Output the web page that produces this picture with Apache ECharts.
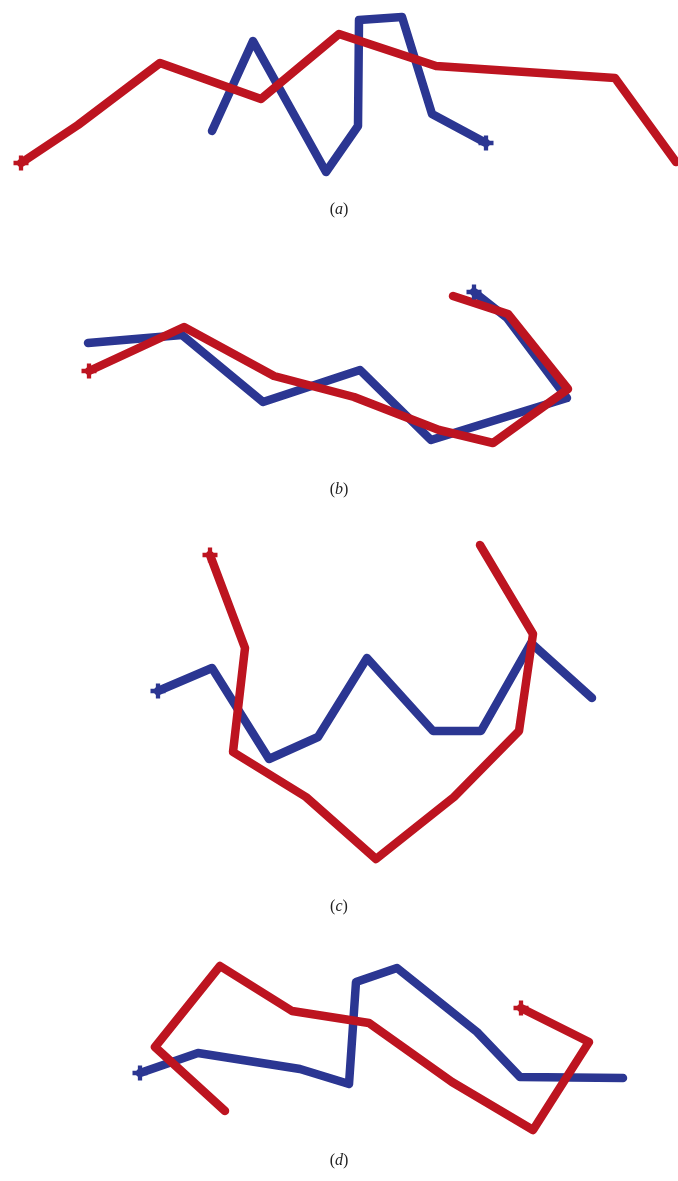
<!DOCTYPE html>
<html><head><meta charset="utf-8">
<script src="https://cdn.jsdelivr.net/npm/echarts@6/dist/echarts.min.js"></script>
<style>html,body{margin:0;padding:0;background:#fff}#c{width:678px;height:1181px}</style>
</head><body><div id="c"></div>
<script>
// Panel data in local panel coordinates [x, y]; first point carries the end marker
const panelLabels = ['a', 'b', 'c', 'd'];
const aRed  = [[21,163],[78,125],[160,63],[261,99],[339,34],[436,66],[615,78],[676,162]];
const aBlue = [[486,143],[432,114],[402,17],[359,20],[358,126],[326,172],[253,41],[212,131]];
const bRed  = [[89,111],[184,67],[274,116],[354,137],[439,170],[493,183],[568,129],[508,54],[453,36]];
const bBlue = [[474,32],[507,58],[567,138],[431,180],[360,110],[263,142],[182,75],[88,83]];
const cRed  = [[210,35],[245,128],[233,232],[306,277],[376,339],[454,277],[519,211],[533,114],[480,25]];
const cBlue = [[158,171],[212,148],[269,239],[318,217],[367,138],[433,211],[481,211],[531,123],[592,178]];
const dRed  = [[521,68],[589,102],[533,190],[452,142],[369,83],[292,71],[220,26],[155,107],[225,171]];
const dBlue = [[140,133],[198,113],[300,129],[349,144],[356,42],[397,28],[477,92],[520,137],[623,138]];

const panels = [
  {red: aRed, blue: aBlue, top: 0,   h: 200, cap: 212},
  {red: bRed, blue: bBlue, top: 260, h: 220, cap: 492},
  {red: cRed, blue: cBlue, top: 520, h: 360, cap: 909},
  {red: dRed, blue: dBlue, top: 940, h: 200, cap: 1163}
];
const RED = '#bd1420', BLUE = '#2b3692';
const plus = 'path://M5,0h4v5h5v4h-5v5h-4v-5h-5v-4h5z';

const grid = [], xAxis = [], yAxis = [], series = [], graphic = [];
panels.forEach((p, i) => {
  grid.push({left: 0, width: 678, top: p.top, height: p.h});
  xAxis.push({type: 'value', gridIndex: i, min: 0, max: 678, show: false});
  yAxis.push({type: 'value', gridIndex: i, min: 0, max: p.h, inverse: true, show: false});
  [[p.blue, BLUE], [p.red, RED]].forEach(([d, col]) => {
    series.push({
      type: 'line', xAxisIndex: i, yAxisIndex: i, silent: true, animation: false,
      showSymbol: true, symbol: 'none',
      data: d.map((pt, k) => k === 0 ? {value: pt, symbol: plus, symbolSize: 15, itemStyle: {color: col}} : {value: pt}),
      lineStyle: {color: col, width: 8.5, cap: 'round', join: 'round'},
      itemStyle: {color: col}
    });
  });
  graphic.push({
    type: 'text', left: 'center', top: p.cap - 10,
    style: {
      text: '{p|(}{i|' + panelLabels[i] + '}{p|)}',
      rich: {
        p: {fontFamily: 'Liberation Serif', fontSize: 16, fill: '#222'},
        i: {fontFamily: 'Liberation Serif', fontStyle: 'italic', fontSize: 16, fill: '#222'}
      }
    }
  });
});

const chart = echarts.init(document.getElementById('c'), null, {renderer: 'canvas'});
chart.setOption({backgroundColor: '#fff', animation: false, grid, xAxis, yAxis, series, graphic});
</script>
</body></html>
